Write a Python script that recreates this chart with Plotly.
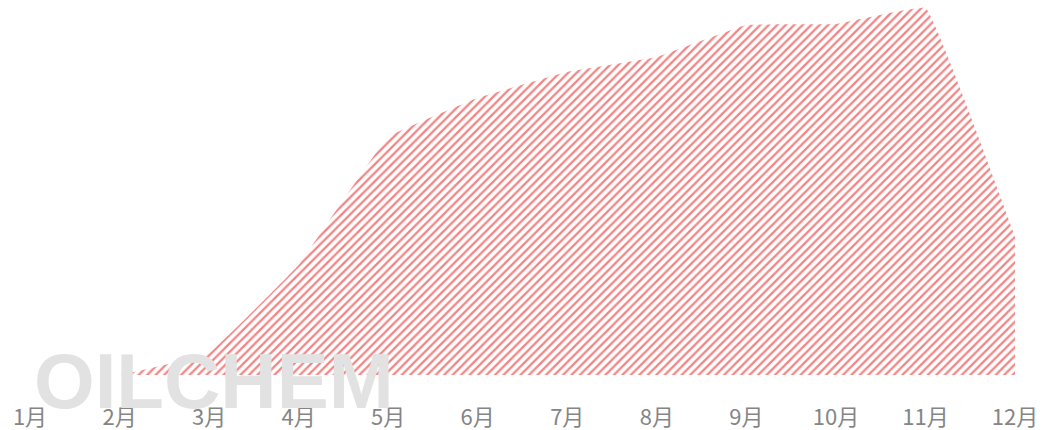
import plotly.graph_objects as go

# Monthly series
months = ["1月", "2月", "3月", "4月", "5月", "6月", "7月", "8月", "9月", "10月", "11月", "12月"]
values = [0, 0, 22, 110, 238, 277, 303, 318, 350, 351, 367, 138]

fig = go.Figure()

fig.add_trace(go.Scatter(
    x=months,
    y=values,
    mode="lines",
    line=dict(width=0, shape="spline", smoothing=0.2, color="#e30b0b"),
    fill="tozeroy",
    fillcolor="rgba(0,0,0,0)",
    fillpattern=dict(shape="/", size=6, solidity=0.38, fgcolor="#e30b0b", bgcolor="rgba(255,255,255,0)"),
    hoverinfo="x+y",
    showlegend=False,
))

# Brand watermark behind the chart
fig.add_annotation(
    text="<b>OILCHEM</b>",
    xref="paper", yref="paper",
    x=0, y=0,
    xanchor="left", yanchor="middle",
    xshift=2, yshift=-6,
    showarrow=False,
    font=dict(family="Liberation Sans, Arial, sans-serif", size=78, color="#e2e2e2"),
)

fig.update_xaxes(
    type="category",
    range=[0, 11],
    showgrid=False,
    showline=False,
    zeroline=False,
    ticks="",
    ticklabelstandoff=27,
    tickfont=dict(family="Noto Sans CJK SC, sans-serif", size=22, color="#858585"),
)
fig.update_yaxes(
    range=[0, 375],
    showgrid=False,
    showline=False,
    zeroline=False,
    showticklabels=False,
    ticks="",
)

fig.update_layout(
    width=1046,
    height=430,
    margin=dict(l=30, r=31, t=0, b=55),
    paper_bgcolor="white",
    plot_bgcolor="white",
)

fig.write_html("out.html")
